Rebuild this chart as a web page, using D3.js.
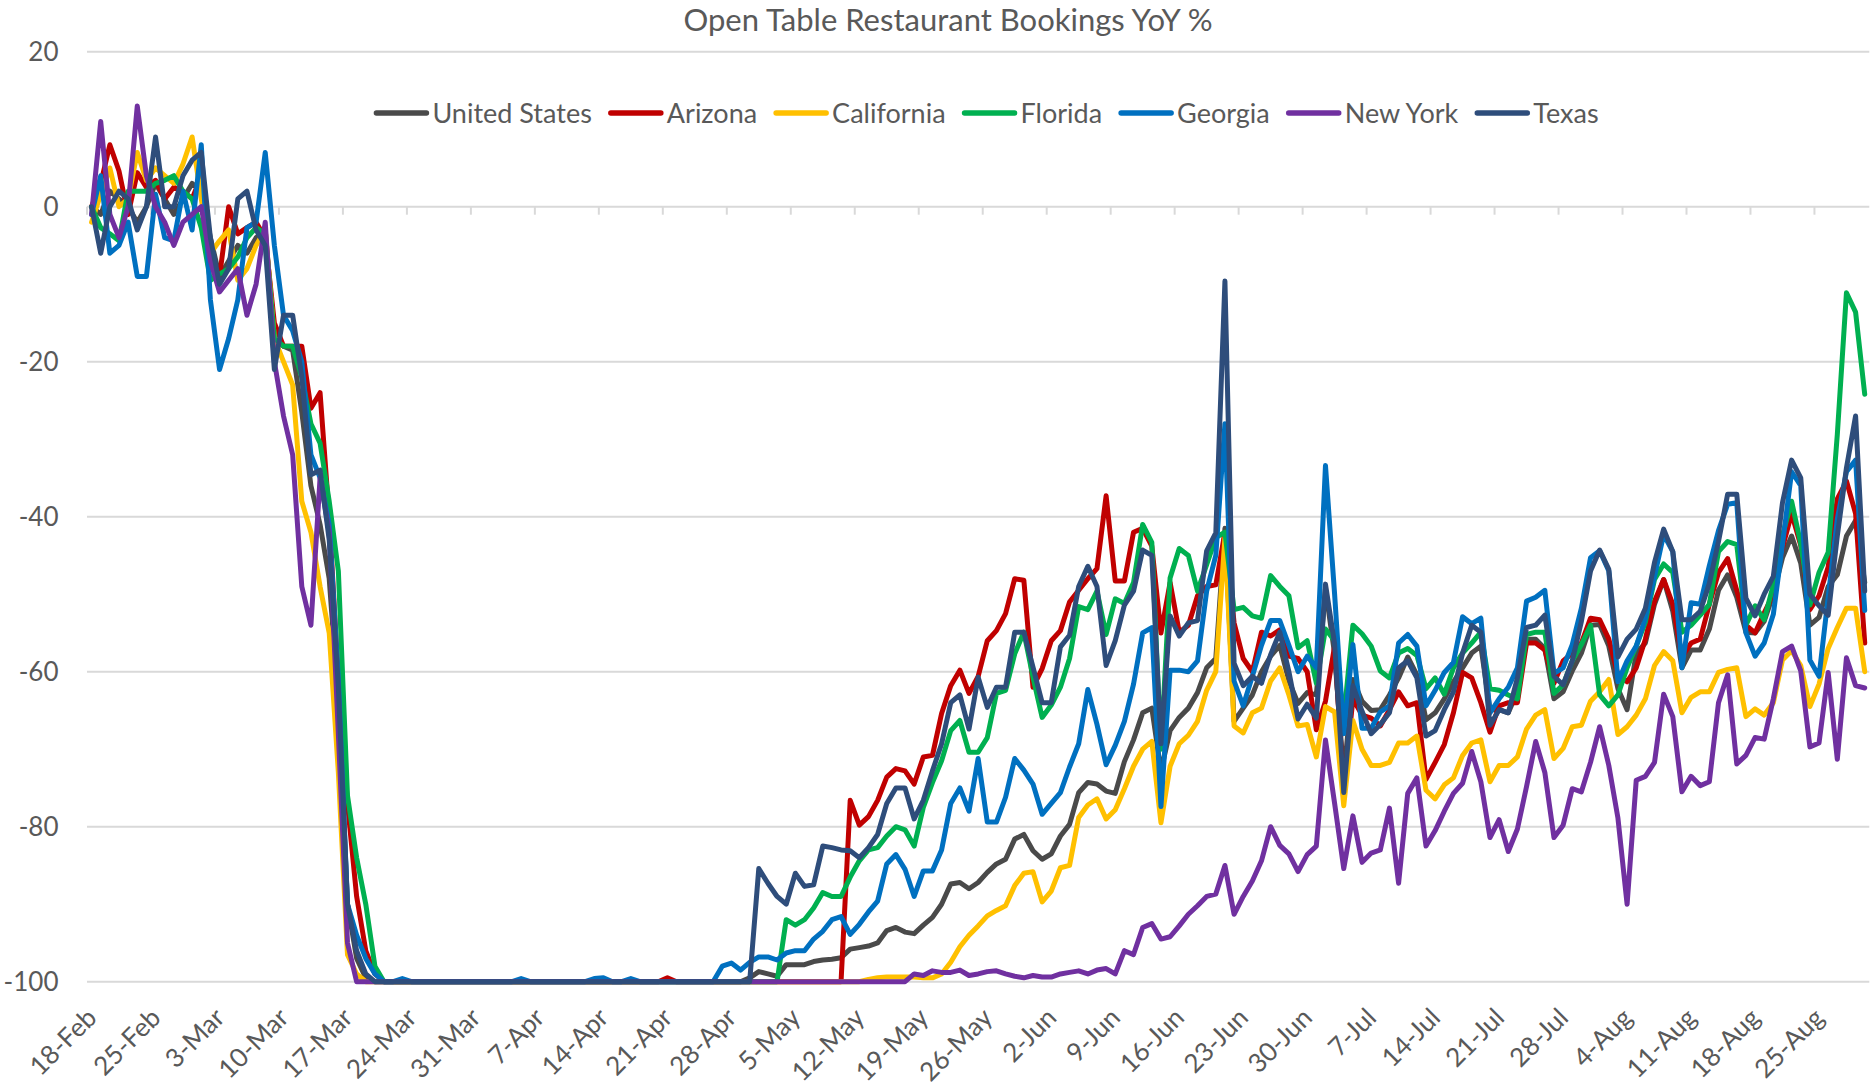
<!DOCTYPE html>
<html>
<head>
<meta charset="utf-8">
<script src="https://cdn.jsdelivr.net/npm/d3@7"></script>
<style>
  html, body { margin: 0; padding: 0; background: #fff; }
  .chart { width: 1871px; height: 1086px; }
  text { font-family: Lato, "Open Sans", sans-serif; fill: #595959; }
</style>
</head>
<body>
<div class="chart"></div>
<script>
// daily values, 18-Feb .. 30-Aug, one row = 10 days
const unitedStates = [
  0, -1, 2, 1, 0, -2, 0, 3, 1, -1,
  1, 3, 2, -4, -9, -7, -5, -6, -4, -3,
  -17, -18, -18.5, -26.5, -36, -41, -48, -64, -90, -97,
  -99.5, -100, -100, -100, -100, -100, -100, -100, -100, -100,
  -100, -100, -100, -100, -100, -100, -100, -100, -100, -100,
  -100, -100, -100, -100, -100, -100, -100, -100, -100, -100,
  -100, -100, -100, -100, -100, -100, -100, -100, -100, -100,
  -100, -100, -99.5, -98.7, -99, -99.3, -97.8, -97.8, -97.8, -97.4,
  -97.2, -97.1, -96.9, -95.8, -95.6, -95.4, -95, -93.4, -93, -93.6,
  -93.8, -92.7, -91.7, -90, -87.4, -87.2, -88, -87.2, -85.9, -84.8,
  -84.2, -81.6, -81, -83.1, -84.2, -83.5, -81.2, -79.7, -75.6, -74.3,
  -74.5, -75.4, -75.7, -71.6, -68.8, -65.3, -64.7, -72.8, -67.6, -65.9,
  -64.7, -62.7, -59.5, -58.3, -41.5, -66.4, -64.7, -63, -60, -58,
  -56.6, -61.2, -64.1, -62.7, -63, -49.3, -57.7, -73.5, -61, -63.8,
  -65, -64.9, -63, -60.8, -58.1, -60.4, -66.2, -65.3, -63.5, -61.3,
  -59.5, -57.6, -56.7, -64.9, -64.9, -65.3, -62.6, -55.8, -55.8, -57,
  -63.5, -62.6, -59.9, -57.6, -54, -53.9, -56.7, -62.2, -64.9, -57.6,
  -56.3, -51.3, -48.1, -52.2, -59.5, -57.2, -57.2, -54.5, -49.5, -47.5,
  -50.4, -54.9, -55, -53.5, -50, -45.3, -42.5, -46, -54, -53,
  -49, -47.5, -42.5, -40.5, -48.5
];

const arizona = [
  0, 3, 8, 4.6, -1, 4.4, 2.5, 3.4, 1, 2.5,
  2, 1, 4, -6, -9, 0, -3.5, -2.7, -2, -4,
  -15, -18, -18, -18, -26, -24, -40, -61, -77, -89,
  -96, -99, -100, -100, -100, -100, -100, -100, -100, -100,
  -100, -100, -100, -100, -100, -100, -100, -100, -100, -100,
  -100, -100, -100, -100, -100, -100, -100, -100, -100, -100,
  -100, -100, -100, -99.5, -100, -100, -100, -100, -100, -100,
  -100, -100, -100, -100, -100, -100, -100, -100, -100, -100,
  -100, -100, -100, -76.6, -79.8, -78.7, -76.6, -73.6, -72.5, -72.8,
  -74.5, -71, -70.8, -65.4, -61.8, -59.8, -62.8, -60.6, -56, -54.7,
  -52.5, -48, -48.2, -62, -59.6, -56, -54.7, -51, -49.5, -48,
  -46.7, -37.3, -48.3, -48.3, -42, -41.5, -43.8, -55, -48.5, -54.9,
  -54, -50.2, -49, -48.8, -42, -53.7, -58.3, -60, -54.9, -55.4,
  -54.6, -58, -58.3, -60, -67.5, -63.8, -56.7, -75.3, -63.5, -65.6,
  -66, -67, -64.9, -62.6, -64.4, -64, -73.9, -71.7, -69.4, -65.3,
  -60.1, -60.8, -64, -67.8, -64.4, -64, -64, -56.3, -56.3, -57.2,
  -61.5, -58.6, -57.6, -56.3, -53.1, -53.3, -55.8, -60.4, -61.3, -59.5,
  -55.8, -50.9, -48.1, -51.3, -58.1, -56.3, -55.8, -51.3, -47.2, -45.4,
  -49.5, -54, -55, -52.4, -50, -44, -39.6, -43.7, -52, -50.2,
  -46.5, -37.7, -35.4, -39.6, -56.3
];

const california = [
  -2, 1.6, 5, 0, 1, 7, 3.4, 5, 4, 3,
  5.5, 9, 1, -6, -4.4, -3, -9.5, -8, -5, -3,
  -17, -20, -23, -38, -42, -49, -55, -73, -96.5, -99,
  -100, -100, -100, -100, -100, -100, -100, -100, -100, -100,
  -100, -100, -100, -100, -100, -100, -100, -100, -100, -100,
  -100, -100, -100, -100, -100, -100, -100, -100, -100, -100,
  -100, -100, -100, -100, -100, -100, -100, -100, -100, -100,
  -100, -100, -100, -100, -100, -100, -100, -100, -100, -100,
  -100, -100, -100, -100, -100, -99.7, -99.5, -99.4, -99.4, -99.4,
  -99.4, -99.5, -99.5, -99, -97.5, -95.5, -94, -92.8, -91.5, -90.8,
  -90.2, -87.6, -86, -85.8, -89.7, -88.3, -85.3, -85, -78.8, -77.2,
  -76.4, -79, -77.8, -75.1, -72.2, -70, -69, -79.5, -72.2, -69.3,
  -68.2, -66.4, -62.4, -60, -42.7, -67, -67.9, -65.3, -64.7, -61.2,
  -59.5, -63, -67, -66.8, -71, -64.5, -65.2, -77.3, -66.3, -70,
  -72.1, -72.1, -71.7, -69.2, -69.2, -68.3, -75.3, -76.4, -74.6, -73.7,
  -70.8, -69.2, -68.8, -74.2, -72.1, -72.1, -71, -67.4, -65.6, -64.9,
  -71.2, -69.9, -67.1, -66.9, -63.8, -62.6, -61, -68.1, -67.1, -65.6,
  -63.5, -59.2, -57.4, -58.6, -65.3, -63.3, -62.6, -62.6, -60.1, -59.7,
  -59.5, -65.8, -64.8, -65.6, -64, -58.5, -57.3, -59.2, -64.5, -61.6,
  -57, -54.3, -51.8, -51.8, -60
];

const florida = [
  0, -2.7, -3.5, -4.4, 2, 2, 2, 3, 3.4, 4,
  2, 1, -2.7, -9.5, -8.7, -8, -6.5, -4, -2.7, -3.5,
  -17, -18, -18, -22, -28, -30.5, -38, -47, -76, -84,
  -90, -98, -100, -100, -100, -100, -100, -100, -100, -100,
  -100, -100, -100, -100, -100, -100, -100, -100, -100, -100,
  -100, -100, -100, -100, -100, -100, -100, -100, -100, -100,
  -100, -100, -100, -100, -100, -100, -100, -100, -100, -100,
  -100, -100, -100, -100, -100, -100, -92, -92.7, -92, -90.5,
  -88.5, -89, -89, -86.5, -84.4, -83, -82.7, -81.2, -80, -80.4,
  -82.5, -77.5, -74.3, -71.5, -67.6, -66.3, -70.4, -70.4, -68.5, -62.8,
  -62.4, -57.7, -54.9, -60.7, -65.9, -64.3, -62, -58.3, -51.6, -52,
  -49.6, -55.2, -50.6, -51.2, -48.5, -41, -43.3, -70, -47.9, -44.1,
  -45, -49.6, -46.2, -42.7, -42, -52, -51.7, -52.8, -53.1, -47.6,
  -49, -50.2, -56.9, -56, -61.5, -54.5, -56, -66, -54, -55.1,
  -56.7, -59.9, -60.8, -57.6, -57, -57.9, -62.2, -60.8, -62.9, -59.5,
  -57.6, -56.3, -54.9, -62.2, -62.4, -63, -63.5, -55.2, -54.9, -54.9,
  -62.8, -61.7, -58.6, -56.5, -54, -63, -64.4, -63, -59.5, -56.7,
  -53.6, -48.1, -46.1, -47.2, -54.9, -54, -52.7, -51.3, -44.5, -43.2,
  -43.6, -54, -51.5, -53.3, -48.8, -42.4, -38, -43.5, -51.4, -47.2,
  -44.6, -29.4, -11.1, -13.6, -24.2
];

const georgia = [
  -1, 4, -6, -5, -2, -9, -9, 1.6, -4, -4.4,
  2, -3, 8, -12, -21, -17, -12, -2.7, -2, 7,
  -5, -14, -16, -20, -32, -35, -41, -61, -90, -94,
  -97, -99, -100, -100, -99.6, -100, -100, -100, -100, -100,
  -100, -100, -100, -100, -100, -100, -100, -99.6, -100, -100,
  -100, -100, -100, -100, -100, -99.6, -99.5, -100, -100, -99.6,
  -100, -100, -100, -100, -100, -100, -100, -100, -100, -98,
  -97.6, -98.5, -97.5, -96.8, -96.8, -97.2, -96.3, -96, -96, -94.5,
  -93.5, -92, -91.6, -93.9, -92.6, -91, -89.6, -84.8, -83.6, -85.5,
  -89, -85.7, -85.7, -83, -77, -75, -78, -71.2, -79.4, -79.4,
  -76.2, -71.2, -72.7, -74.5, -78.4, -77, -75.6, -72.3, -69.3, -62.3,
  -66.8, -72, -69.5, -66.4, -61.6, -55, -54.3, -77.4, -59.8, -59.8,
  -60, -58.6, -49.6, -45, -28, -61.2, -64.4, -60.6, -56.6, -53.4,
  -53.4, -56.6, -60, -58, -59.5, -33.4, -50, -68, -56.5, -67.3,
  -67.3, -65.2, -64.4, -56.3, -55.2, -56.7, -64.4, -62.4, -60.1, -58.8,
  -52.9, -53.8, -53.1, -65.3, -63.5, -62, -59.5, -50.9, -50.4, -49.5,
  -60.2, -59.5, -56.5, -51.8, -45.3, -44.4, -47, -61.3, -58.6, -56.7,
  -53.1, -47.7, -42.3, -44.5, -59.5, -51.1, -51.3, -46.3, -41.8, -38.4,
  -38.2, -55, -58, -56.3, -52.6, -43.6, -34.2, -36, -58.5, -60.6,
  -50.4, -40.3, -34.2, -32.7, -52.1
];

const newYork = [
  -1, 11, -1, -4, 0, 13, 4, 0, -2, -5,
  -2, -1, 0, -7, -11, -9.5, -8, -14, -10, -2,
  -20, -27, -32, -49, -54, -35, -42, -68, -95, -100,
  -100, -100, -100, -100, -100, -100, -100, -100, -100, -100,
  -100, -100, -100, -100, -100, -100, -100, -100, -100, -100,
  -100, -100, -100, -100, -100, -100, -100, -100, -100, -100,
  -100, -100, -100, -100, -100, -100, -100, -100, -100, -100,
  -100, -100, -100, -100, -100, -100, -100, -100, -100, -100,
  -100, -100, -100, -100, -100, -100, -100, -100, -100, -100,
  -99, -99.2, -98.6, -98.8, -98.8, -98.5, -99.2, -99, -98.7, -98.6,
  -99, -99.3, -99.5, -99.2, -99.4, -99.4, -99, -98.8, -98.6, -99,
  -98.5, -98.3, -99, -96, -96.5, -93, -92.5, -94.5, -94.2, -92.8,
  -91.3, -90.2, -89, -88.7, -85, -91.3, -89, -87, -84.4, -80,
  -82.4, -83.5, -85.8, -83.6, -82.5, -68.8, -77, -85.4, -78.6, -84.6,
  -83.4, -83, -77.6, -87.3, -75.7, -73.7, -82.5, -80.5, -78, -75.7,
  -74.4, -70.3, -74.2, -81.4, -79.1, -83.2, -80.3, -74.8, -69, -73,
  -81.4, -79.8, -75.1, -75.5, -71.7, -67.1, -72.1, -78.9, -90, -74,
  -73.5, -71.7, -62.9, -65.8, -75.5, -73.5, -74.7, -74.2, -64, -60.4,
  -71.9, -70.8, -68.5, -68.7, -63.5, -57.4, -56.7, -59.9, -69.7, -69.2,
  -60.1, -71.3, -58.2, -61.8, -62.1
];

const texas = [
  0, -6, 0, 2, 1, -3, 0, 9, 0, 0,
  4, 6, 7, -4, -10, -8, 1, 2, -3, -5,
  -21, -14, -14, -22, -34.6, -34, -43, -62, -90, -96,
  -99, -100, -100, -100, -100, -100, -100, -100, -100, -100,
  -100, -100, -100, -100, -100, -100, -100, -100, -100, -100,
  -100, -100, -100, -100, -100, -100, -100, -100, -100, -100,
  -100, -100, -100, -100, -100, -100, -100, -100, -100, -100,
  -100, -100, -100, -85.4, -87.3, -89, -90, -86, -87.7, -87.5,
  -82.5, -82.7, -83, -83.1, -84, -82.7, -81, -77, -75, -75,
  -79, -76.6, -72.8, -69.3, -64, -63, -67.4, -60.7, -64.6, -62,
  -62, -54.9, -54.9, -59.4, -64, -64, -56.8, -55.3, -49, -46.4,
  -49, -59.2, -56, -51.4, -49.6, -44.3, -45, -69.3, -52.8, -55.4,
  -53.7, -53.4, -44.4, -42.1, -9.6, -58.9, -61.8, -60.6, -61.5, -57.8,
  -54.9, -60, -66.1, -64.2, -66, -48.7, -56.4, -75.6, -61.8, -65.1,
  -68, -66.8, -65.3, -59.5, -58.6, -60.8, -68.3, -67.6, -64.9, -62.6,
  -57.6, -54, -54.9, -66.9, -64.9, -65.3, -60.8, -54.3, -54, -52.7,
  -60.6, -61.7, -58.6, -53.5, -47, -44.3, -46.8, -58.1, -55.8, -54.5,
  -51.8, -45.9, -41.6, -44.5, -53.3, -53.3, -52.2, -48.6, -43.2, -37.1,
  -37.1, -50.5, -52.8, -50, -47.7, -38.2, -32.7, -35, -50, -51.5,
  -52.7, -42.5, -33.7, -27, -49.6
];

const seriesNames = ['United States', 'Arizona', 'California', 'Florida', 'Georgia', 'New York', 'Texas'];
const seriesColors = ['#4a4a4a', '#c00000', '#ffc000', '#00b050', '#0070c0', '#7030a0', '#2e4d7b'];
const seriesValues = [unitedStates, arizona, california, florida, georgia, newYork, texas];

// one label every 7 days
const tickLabels = ['18-Feb', '25-Feb', '3-Mar', '10-Mar', '17-Mar', '24-Mar', '31-Mar', '7-Apr',
  '14-Apr', '21-Apr', '28-Apr', '5-May', '12-May', '19-May', '26-May', '2-Jun', '9-Jun', '16-Jun',
  '23-Jun', '30-Jun', '7-Jul', '14-Jul', '21-Jul', '28-Jul', '4-Aug', '11-Aug', '18-Aug', '25-Aug'];
const yTicks = [20, 0, -20, -40, -60, -80, -100];

const width = 1871, height = 1086;
const margin = {top: 51.7, right: 1.5, bottom: 104.3, left: 87};
const nDays = unitedStates.length;

const svg = d3.select('.chart').append('svg')
    .attr('width', width)
    .attr('height', height);

const scaleX = d3.scaleBand()
    .domain(d3.range(nDays))
    .range([margin.left, margin.left + nDays * 9.14]);
const half = scaleX.bandwidth() / 2;

const scaleY = d3.scaleLinear()
    .domain([-100, 20])
    .range([height - margin.bottom, margin.top]);

const plotRight = scaleX.range()[1];

// gridlines
svg.append('g')
  .selectAll('line')
  .data(yTicks)
  .join('line')
    .attr('x1', margin.left)
    .attr('x2', plotRight)
    .attr('y1', d => scaleY(d))
    .attr('y2', d => scaleY(d))
    .attr('stroke', '#d9d9d9')
    .attr('stroke-width', 2);

// y axis labels
svg.append('g')
  .selectAll('text')
  .data(yTicks)
  .join('text')
    .attr('x', 58.5)
    .attr('y', d => scaleY(d))
    .attr('dy', '0.36em')
    .attr('text-anchor', 'end')
    .style('font-size', '26px')
    .text(d => d);

// category ticks sit on the zero line, between days
const tickIdx = tickLabels.map((d, k) => k * 7);
svg.append('g')
  .selectAll('line')
  .data(tickIdx)
  .join('line')
    .attr('x1', i => scaleX(i))
    .attr('x2', i => scaleX(i))
    .attr('y1', scaleY(0))
    .attr('y2', scaleY(0) + 8)
    .attr('stroke', '#d9d9d9')
    .attr('stroke-width', 2);

svg.append('g')
  .selectAll('text')
  .data(tickLabels)
  .join('text')
    .attr('transform', (d, k) => 'translate(' + (scaleX(k * 7) + half) + ',' + (height - margin.bottom + 31) + ') rotate(-45)')
    .attr('text-anchor', 'end')
    .attr('dy', '0.36em')
    .style('font-size', '26px')
    .text(d => d);

// lines
const line = d3.line()
    .x((d, i) => scaleX(i) + half)
    .y(d => scaleY(d));

svg.append('g')
  .selectAll('path')
  .data(seriesValues)
  .join('path')
    .attr('d', line)
    .attr('fill', 'none')
    .attr('stroke', (d, k) => seriesColors[k])
    .attr('stroke-width', 5)
    .attr('stroke-linejoin', 'round')
    .attr('stroke-linecap', 'round');

// title
svg.append('text')
    .attr('x', 948)
    .attr('y', 31)
    .attr('text-anchor', 'middle')
    .style('font-size', '31px')
    .text('Open Table Restaurant Bookings YoY %');

// legend, laid out left to right then centred
const legend = svg.append('g');
const items = legend.selectAll('g')
  .data(seriesNames)
  .join('g');

items.append('line')
    .attr('x1', 2)
    .attr('x2', 52)
    .attr('stroke', (d, k) => seriesColors[k])
    .attr('stroke-width', 5.5)
    .attr('stroke-linecap', 'round');

items.append('text')
    .attr('x', 58)
    .attr('dy', '0.36em')
    .style('font-size', '27px')
    .text(d => d);

let offset = 0;
items.each(function() {
  const w = this.querySelector('text').getComputedTextLength();
  d3.select(this).attr('transform', 'translate(' + offset + ',0)');
  offset += 58 + w + 17;
});
offset -= 17;
legend.attr('transform', 'translate(' + (986.5 - offset / 2) + ',113)');
</script>
</body>
</html>
